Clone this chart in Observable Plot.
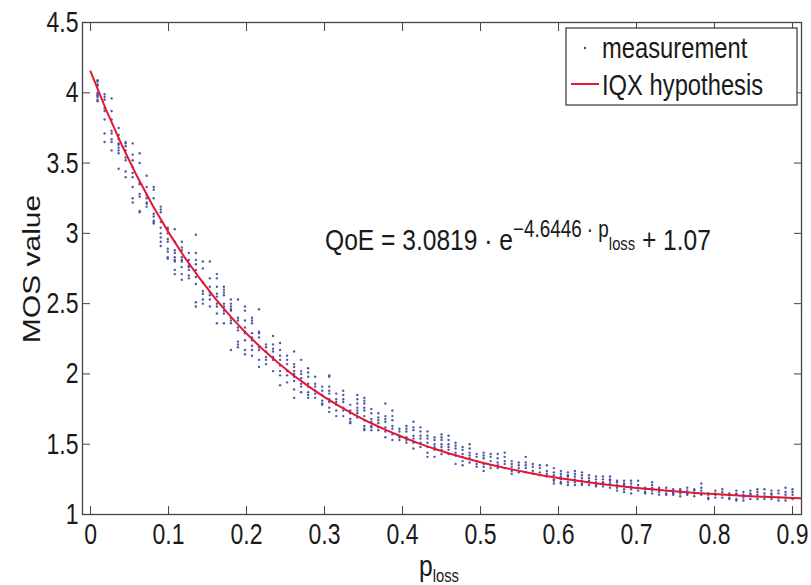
<!DOCTYPE html>
<html><head><meta charset="utf-8">
<script src="https://cdn.jsdelivr.net/npm/d3@7"></script>
<script src="https://cdn.jsdelivr.net/npm/@observablehq/plot@0.6"></script>
<style>body{margin:0;background:#fff;overflow:hidden}</style>
</head><body><div id="chart"></div>
<script>
const pLoss = [0.009,0.018,0.027,0.036,0.045,0.054,0.063,0.072,0.081,0.09,
0.099,0.108,0.117,0.126,0.135,0.144,0.153,0.162,0.171,0.18,
0.189,0.198,0.207,0.216,0.225,0.234,0.243,0.252,0.261,0.27,
0.279,0.288,0.297,0.306,0.315,0.324,0.333,0.342,0.351,0.36,
0.369,0.378,0.387,0.396,0.405,0.414,0.423,0.432,0.441,0.45,
0.459,0.468,0.477,0.486,0.495,0.504,0.513,0.522,0.531,0.54,
0.549,0.558,0.567,0.576,0.585,0.594,0.603,0.612,0.621,0.63,
0.639,0.648,0.657,0.666,0.675,0.684,0.693,0.702,0.711,0.72,
0.729,0.738,0.747,0.756,0.765,0.774,0.783,0.792,0.801,0.81,
0.819,0.828,0.837,0.846,0.855,0.864,0.873,0.882,0.891,0.9];

const mosByColumn = [
[4.09,4.08,4.06,4.05,4.0,3.99,3.98,3.97,3.95,3.94],
[3.99,3.97,3.95,3.89,3.87,3.81,3.71,3.65],
[3.96,3.87,3.81,3.73,3.71,3.67,3.65,3.59],
[3.75,3.70,3.67,3.64,3.63,3.61,3.59,3.57,3.46],
[3.65,3.64,3.62,3.59,3.54,3.52,3.44,3.40],
[3.64,3.56,3.52,3.47,3.43,3.40,3.33,3.25,3.22],
[3.57,3.50,3.36,3.35,3.28,3.26,3.16,3.15],
[3.41,3.33,3.27,3.25,3.22,3.21,3.19],
[3.33,3.31,3.25,3.14,3.12,3.09,3.08,3.07],
[3.19,3.17,3.15,3.08,3.04,3.00,2.97,2.94,2.91],
[3.04,3.03,3.00,2.96,2.94,2.89,2.87,2.83,2.82],
[3.03,2.94,2.88,2.86,2.83,2.81,2.80,2.74,2.71],
[2.94,2.90,2.88,2.83,2.81,2.80,2.76,2.71,2.67],
[2.86,2.81,2.77,2.76,2.74,2.70,2.68],
[2.99,2.86,2.81,2.78,2.74,2.69,2.64,2.51,2.48],
[2.80,2.75,2.65,2.59,2.57,2.53,2.50],
[2.80,2.68,2.62,2.58,2.56,2.53,2.48],
[2.71,2.68,2.62,2.57,2.55,2.50,2.48,2.43,2.36],
[2.62,2.60,2.58,2.56,2.50,2.48,2.45,2.43,2.36],
[2.53,2.50,2.48,2.46,2.45,2.40,2.38,2.36,2.17],
[2.53,2.40,2.38,2.33,2.31,2.23,2.21,2.19],
[2.48,2.45,2.38,2.33,2.30,2.29,2.24,2.17,2.14],
[2.40,2.38,2.36,2.29,2.26,2.24,2.20,2.17,2.13],
[2.46,2.30,2.29,2.26,2.19,2.17,2.10,2.05],
[2.21,2.19,2.16,2.12,2.10,2.07],
[2.27,2.21,2.18,2.16,2.12,2.10,2.02],
[2.22,2.17,2.13,2.10,2.06,2.02,1.99,1.92],
[2.13,2.10,2.07,2.02,1.99,1.94],
[2.16,2.07,2.05,2.02,2.00,1.98,1.95,1.89,1.83],
[2.10,2.02,2.00,1.97,1.93,1.91,1.87],
[2.04,2.01,1.98,1.93,1.91,1.87,1.85,1.83],
[1.98,1.93,1.91,1.88,1.86,1.83],
[1.91,1.88,1.85,1.81,1.79,1.78],
[1.99,1.98,1.91,1.88,1.86,1.82,1.80,1.76,1.73],
[1.86,1.82,1.80,1.78,1.74,1.70],
[1.88,1.85,1.82,1.80,1.76,1.74,1.70],
[1.78,1.74,1.72,1.68,1.66,1.65],
[1.85,1.82,1.79,1.76,1.74,1.72,1.69],
[1.83,1.81,1.79,1.76,1.74,1.70,1.67,1.63,1.61,1.60],
[1.75,1.72,1.68,1.66,1.63,1.62,1.60],
[1.72,1.69,1.67,1.65,1.62,1.60],
[1.79,1.70,1.68,1.66,1.62,1.59,1.55],
[1.74,1.70,1.67,1.63,1.61,1.57,1.53],
[1.61,1.59,1.56,1.55,1.53],
[1.63,1.61,1.59,1.55,1.53,1.51],
[1.66,1.62,1.60,1.56,1.54,1.51,1.47],
[1.62,1.59,1.56,1.54,1.51,1.48],
[1.59,1.56,1.54,1.51,1.48,1.44,1.41],
[1.55,1.53,1.50,1.48,1.46,1.41],
[1.57,1.55,1.53,1.50,1.48,1.46,1.43],
[1.56,1.53,1.50,1.48,1.46,1.43],
[1.51,1.49,1.47,1.44,1.42,1.36],
[1.48,1.46,1.43,1.41,1.38,1.35],
[1.50,1.47,1.44,1.42,1.40,1.37],
[1.43,1.41,1.38,1.36,1.34],
[1.44,1.42,1.40,1.36,1.34,1.31],
[1.43,1.41,1.38,1.35,1.33],
[1.43,1.40,1.37,1.35,1.33],
[1.44,1.41,1.38,1.36,1.33],
[1.38,1.36,1.34,1.31,1.29],
[1.37,1.35,1.33,1.30],
[1.41,1.37,1.35,1.33,1.30],
[1.36,1.34,1.31,1.29],
[1.35,1.33,1.30,1.28],
[1.35,1.31,1.29,1.27],
[1.33,1.30,1.28,1.25,1.24,1.22],
[1.31,1.29,1.27,1.25,1.23,1.22],
[1.30,1.28,1.27,1.25,1.23,1.21],
[1.31,1.29,1.27,1.25,1.23,1.21],
[1.30,1.28,1.26,1.24,1.22,1.21],
[1.28,1.26,1.24,1.23,1.21],
[1.27,1.25,1.23,1.21,1.20],
[1.27,1.25,1.23,1.22,1.20],
[1.27,1.25,1.24,1.22,1.19],
[1.24,1.23,1.21,1.19,1.17],
[1.24,1.22,1.21,1.18,1.16],
[1.24,1.22,1.20,1.18,1.15],
[1.24,1.21,1.19,1.17],
[1.19,1.18,1.16,1.15],
[1.23,1.21,1.19,1.17,1.15],
[1.19,1.18,1.16,1.14],
[1.19,1.17,1.15,1.14],
[1.18,1.16,1.15,1.14],
[1.18,1.17,1.15,1.13],
[1.19,1.17,1.15,1.14],
[1.18,1.17,1.15,1.13],
[1.22,1.19,1.17,1.15,1.14],
[1.15,1.14,1.12,1.11],
[1.17,1.15,1.14,1.12],
[1.18,1.16,1.14,1.12],
[1.15,1.14,1.12,1.11],
[1.17,1.15,1.14,1.11,1.10],
[1.16,1.14,1.12,1.10],
[1.17,1.15,1.14,1.11],
[1.18,1.16,1.14,1.11],
[1.18,1.15,1.13,1.11],
[1.17,1.15,1.14,1.11],
[1.17,1.15,1.12,1.10],
[1.19,1.16,1.14,1.12,1.10],
[1.18,1.16,1.14,1.11]
];

const curveP = [0,0.02,0.04,0.06,0.08,0.10,0.12,0.14,0.16,0.18,0.20,0.22,0.24,0.26,0.28,0.30,0.32,0.34,0.36,0.38,0.40,0.42,0.44,0.46,0.48,0.50,0.52,0.54,0.56,0.58,0.60,0.62,0.64,0.66,0.68,0.70,0.72,0.74,0.76,0.78,0.80,0.82,0.84,0.86,0.88,0.90,0.91];
const curveQoE = [4.152,3.879,3.629,3.402,3.195,3.007,2.835,2.679,2.536,2.406,2.287,2.179,2.081,1.991,1.910,1.835,1.767,1.705,1.649,1.598,1.551,1.508,1.469,1.434,1.402,1.372,1.345,1.321,1.299,1.278,1.260,1.243,1.228,1.214,1.201,1.189,1.179,1.169,1.160,1.152,1.145,1.138,1.132,1.127,1.122,1.117,1.115];

const xTicks = [0,0.1,0.2,0.3,0.4,0.5,0.6,0.7,0.8,0.9];
const yTicks = [1,1.5,2,2.5,3,3.5,4,4.5];
const seriesNames = ["measurement","IQX hypothesis"];

const measurements = pLoss.flatMap((p, i) => mosByColumn[i].map(m => ({p, mos: m})));
const curve = curveP.map((p, i) => ({p, qoe: curveQoE[i]}));

const FONT = '"Liberation Sans", Arial, Helvetica, sans-serif';
const SX = 0.82, SXT = 0.78;
const DOT = "#2f3f98", RED = "#e5172e", INK = "#1a1a1a", FRAME = "#444";
const fmt = d3.format("~g");

const svg = Plot.plot({
  width: 811, height: 585,
  marginTop: 22, marginRight: 10, marginBottom: 71, marginLeft: 82,
  style: {fontFamily: FONT, fontSize: "29.5px", color: INK, background: "#fff"},
  x: {domain: [-0.0103, 0.9115]},
  y: {domain: [1, 4.5]},
  marks: [
    Plot.dot(measurements, {x: "p", y: "mos", r: 1.2, fill: DOT, fillOpacity: 0.85, stroke: null}),
    Plot.line(curve, {x: "p", y: "qoe", stroke: RED, strokeWidth: 2}),
    Plot.frame({stroke: FRAME, strokeWidth: 1.3}),
    Plot.axisX(xTicks, {anchor: "bottom", tickSize: -8, tickPadding: 17, label: null, tickFormat: fmt, stroke: FRAME}),
    Plot.axisX(xTicks, {anchor: "top", tickSize: -8, label: null, tickFormat: () => "", stroke: FRAME}),
    Plot.axisY(yTicks, {anchor: "left", tickSize: -8, tickPadding: 12, label: null, tickFormat: fmt, stroke: FRAME}),
    Plot.axisY(yTicks, {anchor: "right", tickSize: -8, label: null, tickFormat: () => "", stroke: FRAME})
  ]
});
document.getElementById("chart").appendChild(svg);

// horizontally condense tick labels to match the reference's narrow type
d3.select(svg).selectAll('g[aria-label$="tick label"] text').each(function() {
  let tr = this.getAttribute("transform") || "";
  const x = this.getAttribute("x");
  if (x != null && !isNaN(+x)) { tr += ` translate(${x},0)`; this.removeAttribute("x"); }
  this.setAttribute("transform", tr + ` scale(${SXT},1)`);
});

const root = d3.select(svg);

// equation annotation
const eq = root.append("text").attr("transform", `translate(325,250) scale(${SX},1)`)
  .attr("text-anchor", "start").attr("font-size", 30).attr("fill", INK);
eq.append("tspan").text("QoE = 3.0819 · e");
eq.append("tspan").attr("font-size", 23).attr("dy", -13).text("−4.6446 · p");
eq.append("tspan").attr("font-size", 18).attr("dy", 13).text("loss");
eq.append("tspan").text(" + 1.07");

// axis titles
root.append("text").attr("transform", `translate(40,269) rotate(-90) scale(1,${SX})`)
  .attr("text-anchor", "middle").attr("font-size", 30).attr("fill", INK).text("MOS value");
const xl = root.append("text").attr("transform", `translate(419,576) scale(${SX},1)`)
  .attr("text-anchor", "start").attr("font-size", 30).attr("fill", INK);
xl.append("tspan").text("p");
xl.append("tspan").attr("font-size", 18).attr("dy", 6).text("loss");

// legend
const lg = root.append("g").attr("text-anchor", "start");
lg.append("rect").attr("x", 566).attr("y", 28).attr("width", 231).attr("height", 77)
  .attr("fill", "#fff").attr("stroke", FRAME).attr("stroke-width", 1.3);
lg.append("circle").attr("cx", 585).attr("cy", 48).attr("r", 1.2).attr("fill", DOT);
lg.append("line").attr("x1", 571).attr("x2", 599).attr("y1", 84).attr("y2", 84)
  .attr("stroke", RED).attr("stroke-width", 2);
lg.append("text").attr("transform", `translate(602,58) scale(${SX},1)`)
  .attr("font-size", 29).attr("fill", INK).text(seriesNames[0]);
lg.append("text").attr("transform", `translate(602,95) scale(${SX},1)`)
  .attr("font-size", 29).attr("fill", INK).text(seriesNames[1]);
</script>
</body></html>
